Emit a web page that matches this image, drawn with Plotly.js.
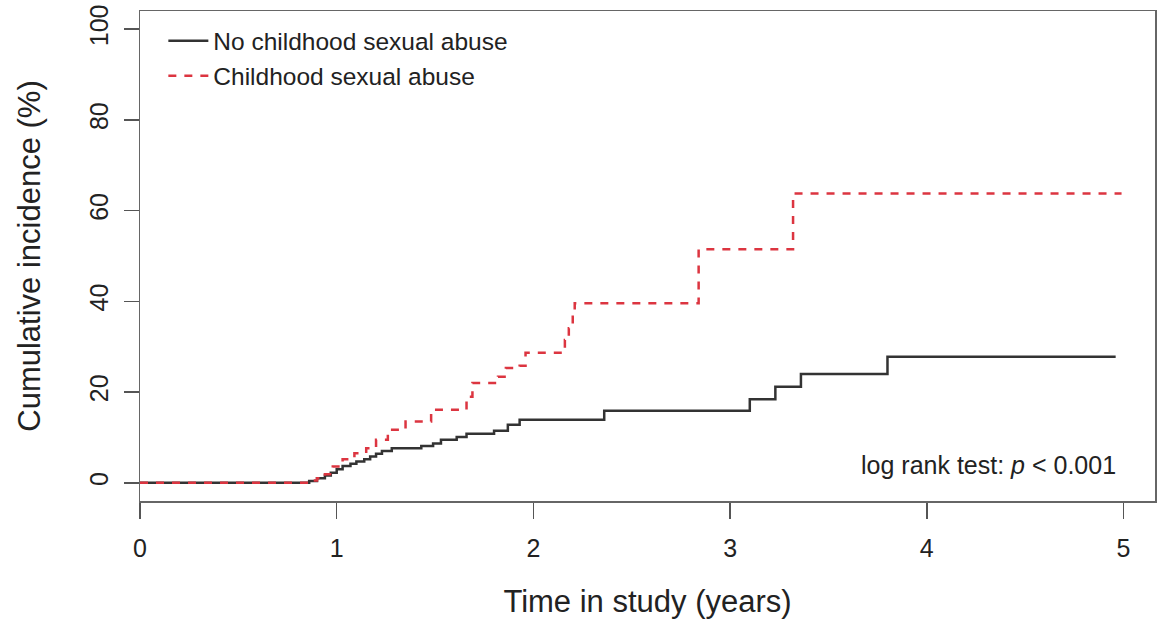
<!DOCTYPE html>
<html>
<head>
<meta charset="utf-8">
<script src="https://cdn.plot.ly/plotly-3.0.1.min.js"></script>
<style>
html,body{margin:0;padding:0;background:#fff;}
#chart{width:1158px;height:622px;}
</style>
</head>
<body>
<div id="chart"></div>
<script>
// Time (years) and cumulative incidence (%) at each step
const noCsaTime = [0, 0.86, 0.9, 0.94, 0.97, 1.0, 1.03, 1.07, 1.1, 1.14, 1.17, 1.2, 1.23, 1.28, 1.43, 1.49, 1.53, 1.61, 1.66, 1.8, 1.87, 1.93, 2.36, 3.1, 3.23, 3.36, 3.8, 4.96];
const noCsaInc  = [0, 0.4, 1.0, 1.6, 2.2, 3.0, 3.7, 4.2, 4.7, 5.2, 5.8, 6.4, 7.0, 7.6, 8.1, 8.7, 9.5, 10.1, 10.8, 11.5, 12.8, 13.9, 15.9, 18.4, 21.2, 24.0, 27.8, 27.8];

const csaTime = [0, 0.86, 0.9, 0.94, 0.98, 1.03, 1.09, 1.15, 1.2, 1.26, 1.35, 1.48, 1.66, 1.69, 1.82, 1.86, 1.93, 1.96, 2.16, 2.18, 2.2, 2.21, 2.84, 3.32, 4.99];
const csaInc  = [0, 0.5, 1.0, 1.9, 3.6, 5.2, 6.5, 7.6, 9.5, 11.7, 13.5, 16.1, 19.0, 22.0, 23.4, 25.3, 25.8, 28.7, 31.5, 34.1, 36.6, 39.6, 51.5, 63.8, 63.8];

const seriesNames = ["No childhood sexual abuse", "Childhood sexual abuse"];
const xTicks = [0, 1, 2, 3, 4, 5];
const yTicks = [0, 20, 40, 60, 80, 100];
const pText = "log rank test: <i>p</i> < 0.001";

const FONT = "Liberation Sans, Arial, Helvetica, sans-serif";
const TXT = "#222";

const traces = [
  {x: noCsaTime, y: noCsaInc, name: seriesNames[0], type: "scatter", mode: "lines",
   line: {shape: "hv", color: "#333333", width: 2.5}},
  {x: csaTime, y: csaInc, name: seriesNames[1], type: "scatter", mode: "lines",
   line: {shape: "hv", color: "#dc3540", width: 2.5, dash: "8px,8px"}}
];

const layout = {
  width: 1158, height: 622,
  margin: {l: 140, r: 3, t: 11, b: 121},
  paper_bgcolor: "#fff", plot_bgcolor: "#fff",
  font: {family: FONT, color: TXT, size: 24},
  showlegend: true,
  legend: {x: 0.023, y: 0.985, xanchor: "left", yanchor: "top",
           bgcolor: "rgba(0,0,0,0)", font: {size: 24.5, color: TXT},
           itemwidth: 40, tracegroupgap: 0},
  xaxis: {
    range: [0, 5.16], tickvals: xTicks, ticktext: xTicks.map(String),
    ticks: "outside", ticklen: 16, tickwidth: 1.5, tickcolor: "#555",
    showline: true, linecolor: "#666", linewidth: 1.5, mirror: true,
    showgrid: false, zeroline: false, ticklabelstandoff: 8,
    tickfont: {size: 25, color: TXT},
    title: {text: "Time in study (years)", font: {size: 31, color: TXT}, standoff: 30}
  },
  yaxis: {
    range: [-4, 104], tickvals: yTicks, ticktext: yTicks.map(String),
    ticks: "outside", ticklen: 15, tickwidth: 1.5, tickcolor: "#555",
    showline: true, linecolor: "#666", linewidth: 1.5, mirror: true,
    showgrid: false, zeroline: false, tickangle: -90, ticklabelstandoff: 6,
    tickfont: {size: 25, color: TXT},
    title: {text: "Cumulative incidence (%)", font: {size: 31, color: TXT}, standoff: 34}
  },
  annotations: [{
    text: pText, x: 4.97, y: 4, xref: "x", yref: "y",
    xanchor: "right", yanchor: "middle", showarrow: false,
    font: {size: 25, color: TXT}
  }]
};

Plotly.newPlot("chart", traces, layout, {displayModeBar: false, staticPlot: true});
</script>
</body>
</html>
